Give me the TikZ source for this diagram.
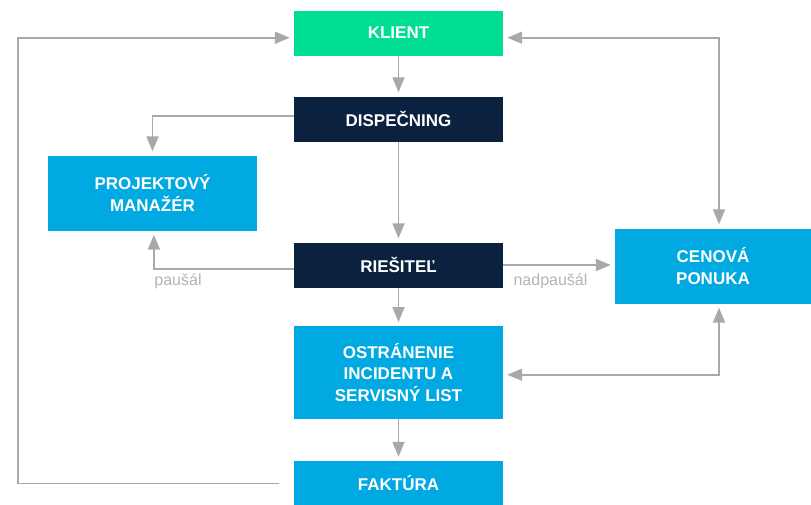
\documentclass[tikz,border=0pt]{standalone}
\usepackage{fontspec}
\setmainfont{Liberation Sans}
\usetikzlibrary{arrows.meta}
\definecolor{cgreen}{HTML}{00DE91}
\definecolor{cnavy}{HTML}{0A2240}
\definecolor{cblue}{HTML}{00A9E1}
\definecolor{cline}{HTML}{A7A9AC}
\definecolor{ctext}{HTML}{B2B4B6}
\tikzset{
  box/.style={rectangle, inner sep=0pt, text=white, align=center,
    font=\fontsize{17}{21.5}\selectfont\bfseries, minimum width=209pt},
  greenbox/.style={box, fill=cgreen, minimum height=45pt},
  navybox/.style={box, fill=cnavy, minimum height=45pt},
  bluebox/.style={box, fill=cblue},
  conn/.style={draw=cline, line width=1.8pt,
    -{Triangle[length=15pt,width=12pt]}, shorten >=4pt},
  biconn/.style={draw=cline, line width=1.8pt,
    {Triangle[length=15pt,width=12pt]}-{Triangle[length=15pt,width=12pt]},
    shorten >=4pt, shorten <=4pt},
  lbl/.style={text=ctext, font=\fontsize{16}{19}\selectfont, inner sep=0pt}
}
\begin{document}
\begin{tikzpicture}[x=1pt,y=-1pt]
\useasboundingbox (0,0) rectangle (811,504);
\node[greenbox] (klient) at (398.5,33) {KLIENT};
\node[navybox] (disp) at (398.5,119) {DISPEČNING};
\node[bluebox, minimum height=75pt] (pm) at (152.5,193) {PROJEKTOVÝ\\MANAŽÉR};
\node[navybox] (ries) at (398.5,265) {RIEŠITEĽ};
\node[bluebox, minimum width=196pt, minimum height=75pt] (cen) at (713,266) {CENOVÁ\\PONUKA};
\node[bluebox, minimum height=92.5pt] (ostr) at (398.5,372.5) {OSTRÁNENIE\\INCIDENTU A\\SERVISNÝ LIST};
\node[bluebox, minimum height=45pt] (fakt) at (398.5,483.5) {FAKTÚRA};
\node[lbl] (lpausal) at (178,281) {paušál};
\node[lbl] (lnad) at (550.5,281) {nadpaušál};
\coordinate (lc) at (17.7,483.5);

\draw[conn] (klient.south) -- (disp.north);
\draw[conn] ([yshift=3.3pt]disp.west) -| (pm.north);
\draw[conn] (disp.south) -- (ries.north);
\draw[conn] ([yshift=-4.3pt]ries.west) -| ([xshift=1.4pt]pm.south);
\draw[conn] (ries.east) -- (ries.east -| cen.west);
\draw[conn] (ries.south) -- (ostr.north);
\draw[conn] (ostr.south) -- (fakt.north);
\draw[biconn] ([yshift=-2.2pt]ostr.east) -| ([xshift=6pt]cen.south);
\draw[biconn] ([yshift=-4.7pt]klient.east) -| ([xshift=6pt]cen.north);
\draw[conn] ([xshift=-15pt]fakt.west) -- (lc) |- ([yshift=-4.7pt]klient.west);
\end{tikzpicture}
\end{document}
